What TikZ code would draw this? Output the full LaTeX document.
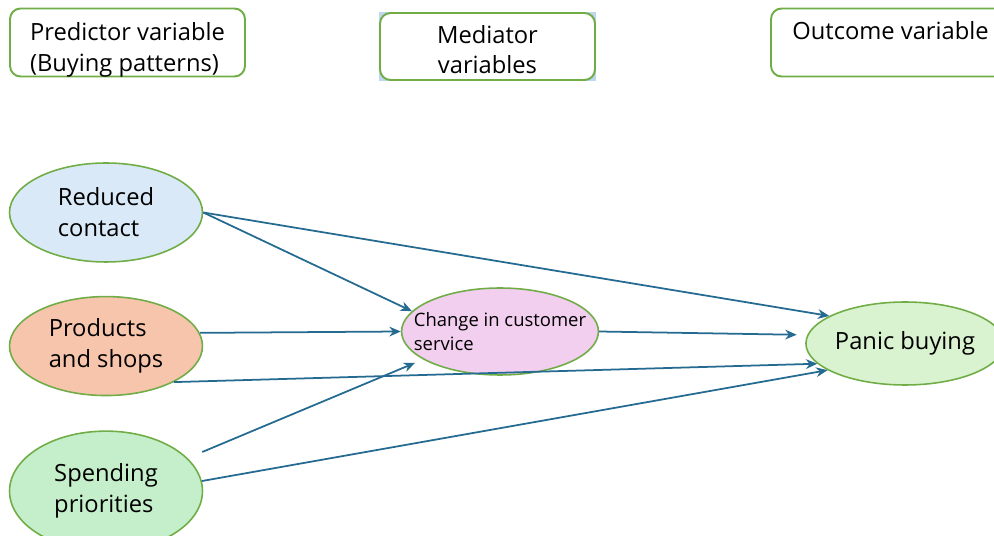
\documentclass[tikz,border=0pt]{standalone}
\usepackage{fontspec}
\setmainfont{Open Sans}
\usepackage{tikz}
\usetikzlibrary{positioning}
\usetikzlibrary{shapes, arrows.meta}

\definecolor{boxGreen}{HTML}{70AD47}
\definecolor{arrowBlue}{HTML}{256A90}
\definecolor{selectBlue}{HTML}{BFD6EE}
\definecolor{contactBlue}{HTML}{DAE9F7}
\definecolor{shopsOrange}{HTML}{F6C5AC}
\definecolor{spendGreen}{HTML}{C4EFCA}
\definecolor{servicePink}{HTML}{F2CEEF}
\definecolor{panicGreen}{HTML}{D9F2D0}

\begin{document}
\begin{tikzpicture}[x=0.02cm, y=-0.02cm]
	\tikzstyle{every node}=[font=\fontsize{13.5}{17.6}\selectfont]
	\tikzstyle{header}=[draw=boxGreen, line width=1.1pt, rounded corners=6pt, fill=white, minimum height=1.36cm, inner sep=0pt]
	\tikzstyle{factor}=[ellipse, draw=boxGreen, line width=0.9pt, align=left, minimum width=3.86cm, minimum height=1.98cm, inner sep=0pt]
	\tikzstyle{link}=[-{Stealth[length=6.5pt, width=5.5pt]}, draw=arrowBlue, line width=1pt]
	\useasboundingbox (0,0) rectangle (994,536);
	\clip (0,0) rectangle (994,536);
	
	% header boxes
	\node[header, minimum width=4.7cm, align=left, text height=1.17cm, text depth=0cm] (predictorBox) at (127.5,42.5) {Predictor variable\\(Buying patterns)};
	\fill[selectBlue] (379,12) rectangle (596,81);
	\node[header, minimum width=4.3cm, minimum height=1.34cm, align=center, text height=1.1cm, text depth=0cm] (mediatorBox) at (487.5,46.5) {Mediator\\variables};
	\node[header, minimum width=4.78cm, text depth=0.5cm] (outcomeBox) at (890.5,42.5) {Outcome variable};
	
	% variables
	\node[factor, fill=contactBlue] (reducedContact) at (106,212.5) {Reduced\\contact};
	\node[factor, fill=shopsOrange, below=0.66cm of reducedContact] (productsShops) {Products\\and shops};
	\node[factor, fill=spendGreen, minimum height=2.4cm, below=0.68cm of productsShops] (spendingPriorities) {Spending\\priorities};
	\node[factor, fill=servicePink, minimum width=3.92cm, minimum height=1.74cm, inner xsep=-0.33cm, font=\fontsize{10.5}{13.6}\selectfont] (customerService) at (500,331.5) {Change in customer\\service};
	\node[factor, fill=panicGreen, minimum width=3.88cm, minimum height=1.66cm, align=center] (panicBuying) at (905,343.5) {Panic buying};
	
	\draw[link] (reducedContact.east) -- (panicBuying.160);
	\draw[link] (reducedContact.east) -- (customerService.167);
	\draw[link] (productsShops.8) -- (customerService.180);
	\draw[link, shorten >=6pt] (customerService.east) -- (panicBuying.175);
	\draw[link] (productsShops.-28) -- (panicBuying.193);
	\draw[link, shorten <=9pt, shorten >=5pt] (spendingPriorities.22) -- (customerService.200);
	\draw[link] (spendingPriorities.6) -- (panicBuying.199);
\end{tikzpicture}
\end{document}
